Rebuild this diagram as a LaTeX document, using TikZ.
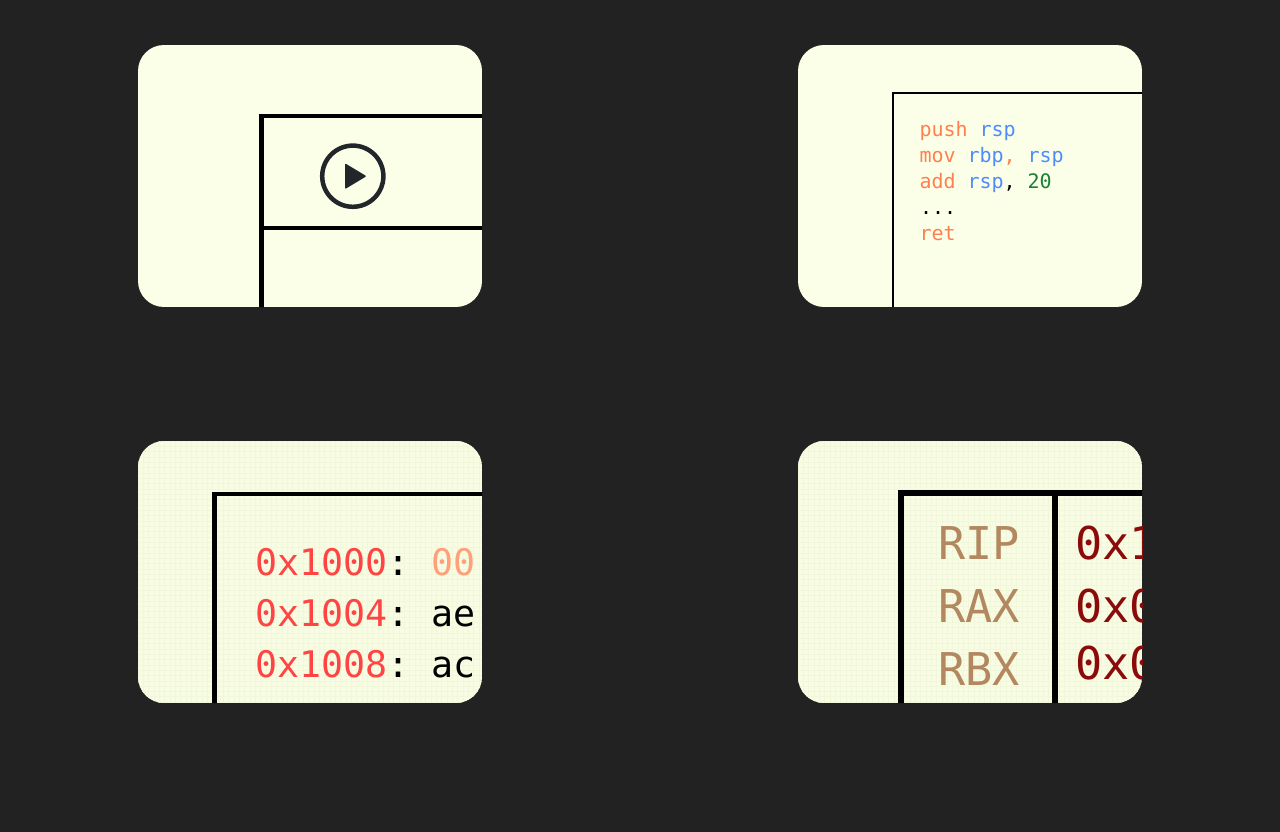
\documentclass[tikz,border=0pt]{standalone}
\usepackage{fontspec}
\setmonofont{DejaVu Sans Mono}
\definecolor{bgdark}{HTML}{222222}
\definecolor{card}{HTML}{FCFFE7}
\definecolor{cardb}{HTML}{F8FCE3}
\definecolor{gridc}{HTML}{F0F7DB}
\definecolor{kw}{HTML}{FF7F50}
\definecolor{reg}{HTML}{4D8BFF}
\definecolor{num}{HTML}{1A8038}
\definecolor{addr}{HTML}{FF4444}
\definecolor{zero}{HTML}{FFA07A}
\definecolor{rname}{HTML}{B38860}
\definecolor{rval}{HTML}{8B0A0A}
\definecolor{icon}{HTML}{22262A}
\tikzset{
  x=1pt,y=-1pt,
  cardbox/.style={rounded corners=26pt},
  gridline/.style={gridc,line width=.7pt},
  code/.style={anchor=base west,inner sep=0pt,outer sep=0pt,font=\ttfamily\fontsize{20}{20}\selectfont},
  memt/.style={anchor=base west,inner sep=0pt,outer sep=0pt,font=\ttfamily\fontsize{36.6}{36.6}\selectfont},
  regt/.style={anchor=base west,inner sep=0pt,outer sep=0pt,font=\ttfamily\fontsize{45.2}{45.2}\selectfont},
}
\begin{document}
\begin{tikzpicture}
\useasboundingbox (0,0) rectangle (1280,832);
\fill[bgdark] (0,0) rectangle (1280,832);
% card 1
\begin{scope}
\clip[cardbox] (138,45) rectangle (482,307);
\fill[card] (138,45) rectangle (482,307);
\draw[black,line width=4.5pt] (261.3,320) -- (261.3,116.2) -- (490,116.2);
\draw[black,line width=4.5pt] (261.3,227.8) -- (490,227.8);
\end{scope}
\draw[icon,line width=4.5pt] (352.8,176.2) circle (30.6);
\fill[icon,rounded corners=1pt] (345,163.3) -- (366.5,176.2) -- (345,189.1) -- cycle;
% card 2
\begin{scope}
\clip[cardbox] (798,45) rectangle (1142,307);
\fill[card] (798,45) rectangle (1142,307);
\draw[black,line width=2pt] (893,320) -- (893,93) -- (1150,93);
\end{scope}
\node[code,text=kw] (p1) at (919.5,136.5) {push};
\node[code,text=reg] (p2) at (979.5,136.5) {rsp};
\node[code,text=kw] (m1) at (919.5,162.5) {mov};
\node[code,text=reg] (m2) at (967.5,162.5) {rbp};
\node[code,text=kw] (m3) at (1003.5,162.5) {,};
\node[code,text=reg] (m4) at (1027.5,162.5) {rsp};
\node[code,text=kw] (a1) at (919.5,188.5) {add};
\node[code,text=reg] (a2) at (967.5,188.5) {rsp};
\node[code,text=black] (a3) at (1003.5,188.5) {,};
\node[code,text=num] (a4) at (1027.5,188.5) {20};
\node[code,text=black] (d1) at (920,214.5) {...};
\node[code,text=kw] (r1) at (919.5,240) {ret};
% card 3
\begin{scope}
\clip[cardbox] (138,441) rectangle (482,703);
\fill[cardb] (138,441) rectangle (482,703);
\foreach \k in {0,...,65} {\draw[gridline] (138+5.33*\k,441) -- (138+5.33*\k,703);}
\foreach \k in {0,...,50} {\draw[gridline] (138,441+5.33*\k) -- (482,441+5.33*\k);}
\draw[black,line width=4.8pt] (214.6,720) -- (214.6,493.9) -- (490,493.9);
\node[memt,text=addr] (a0) at (255,575) {0x1000};
\node[memt,text=black] (c0) at (387,575) {:};
\node[memt,text=zero] (v0) at (431.5,575) {00};
\node[memt,text=addr] (a1b) at (255,626) {0x1004};
\node[memt,text=black] (c1) at (387,626) {:};
\node[memt,text=black] (v1) at (431.5,626) {ae};
\node[memt,text=addr] (a2b) at (255,677) {0x1008};
\node[memt,text=black] (c2) at (387,677) {:};
\node[memt,text=black] (v2) at (431.5,677) {ac};
\end{scope}
% card 4
\begin{scope}
\clip[cardbox] (798,441) rectangle (1142,703);
\fill[cardb] (798,441) rectangle (1142,703);
\foreach \k in {0,...,65} {\draw[gridline] (798+5.33*\k,441) -- (798+5.33*\k,703);}
\foreach \k in {0,...,50} {\draw[gridline] (798,441+5.33*\k) -- (1142,441+5.33*\k);}
\draw[black,line width=5.5pt] (901,720) -- (901,493) -- (1150,493);
\draw[black,line width=5.3pt] (1055,493) -- (1055,720);
\node[regt,text=rname] (r0) at (938.5,559) {RIP};
\node[regt,text=rname] (r2) at (938.5,622) {RAX};
\node[regt,text=rname] (r3) at (938.5,685) {RBX};
\node[regt,text=rval] (w0) at (1075,559) {0x1};
\node[regt,text=rval] (w1) at (1075,622) {0x0};
\node[regt,text=rval] (w2) at (1075,679) {0x0};
\end{scope}
\end{tikzpicture}
\end{document}
